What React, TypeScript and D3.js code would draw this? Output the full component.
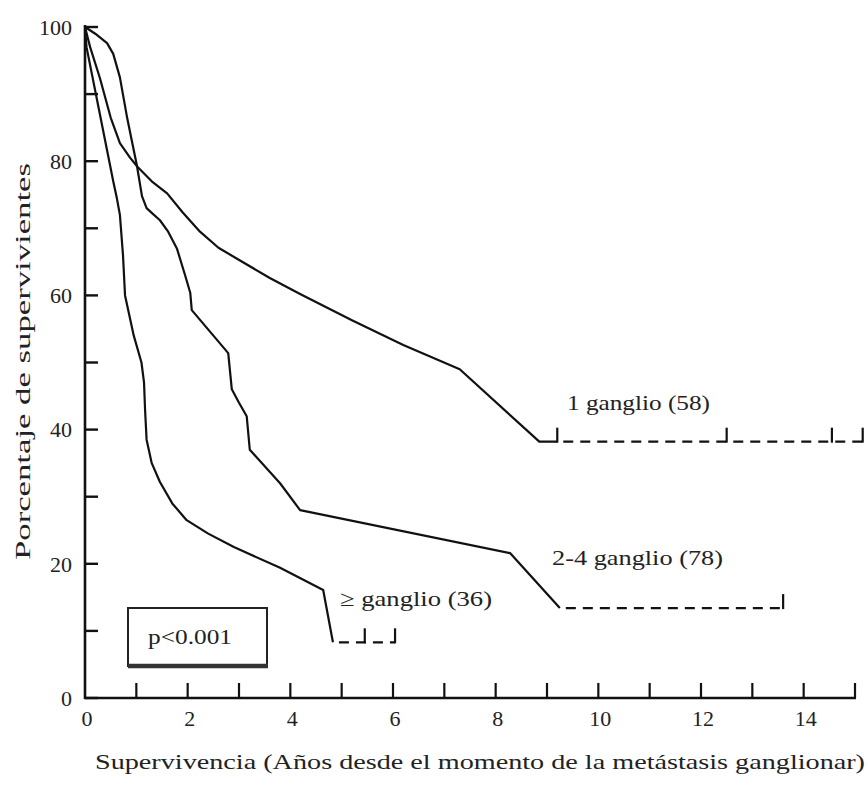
import React from "react";
import * as d3 from "d3";

// Kaplan-Meier curves: [years, % survivors]
const grupo1: [number, number][] = [
  [0, 100], [0.1, 97], [0.29, 92.4], [0.5, 86.5], [0.68, 82.7], [0.88, 80.5],
  [1.03, 79.1], [1.3, 77], [1.6, 75.2], [1.9, 72.4], [2.24, 69.5], [2.6, 67.1],
  [3.02, 65.2], [3.6, 62.6], [4.19, 60.2], [5.2, 56.3], [6.2, 52.6], [7.3, 49],
  [8.85, 38.2], [9.2, 38.2],
];
const grupo2: [number, number][] = [
  [0, 100], [0.2, 99], [0.43, 97.6], [0.55, 96], [0.68, 92.5], [0.82, 86.5],
  [0.94, 82], [1.01, 79.4], [1.11, 74.8], [1.2, 73], [1.3, 72.3], [1.46, 71.2],
  [1.62, 69.5], [1.79, 67], [1.95, 63], [2.05, 60.4], [2.08, 57.8], [2.79, 51.4],
  [2.86, 46], [3.0, 44], [3.15, 42], [3.21, 37], [3.8, 32], [4.19, 28],
  [8.28, 21.6], [9.25, 13.4],
];
const grupo3: [number, number][] = [
  [0, 100], [0.03, 97], [0.29, 87], [0.55, 77], [0.62, 74.5], [0.68, 72],
  [0.74, 66], [0.78, 60], [0.95, 54], [1.1, 50], [1.15, 47], [1.17, 43],
  [1.2, 38.5], [1.3, 35], [1.46, 32.2], [1.7, 29], [1.98, 26.5], [2.4, 24.5],
  [2.9, 22.5], [3.8, 19.4], [4.64, 16.1], [4.83, 8.3],
];

// dashed tail (last follow-up) and censor marks per group
const finGrupos = [15.15, 13.6, 6.04];
const censuras = [[9.2, 12.5, 14.55, 15.15], [13.6], [5.45, 6.04]];
const etiquetas = ["1 ganglio (58)", "2-4 ganglio (78)", "\u2265 ganglio (36)"];

const xTicks = d3.range(0, 16, 1);
const xLabels = [0, 2, 4, 6, 8, 10, 12, 14];
const yTicks = d3.range(0, 101, 10);
const yLabels = [0, 20, 40, 60, 80, 100];

export default function App() {
  const width = 867;
  const height = 792;
  const x = d3.scaleLinear().domain([0, 15]).range([85, 855]);
  const y = d3.scaleLinear().domain([0, 100]).range([698, 27]);
  const line = d3
    .line<[number, number]>()
    .x((d) => x(d[0]))
    .y((d) => y(d[1]));

  const grupos = [grupo1, grupo2, grupo3];
  const font = "'Liberation Serif', 'Times New Roman', serif";

  // label placements
  const labelPos = [
    { x: 567, y: 402, w: 143 },
    { x: 552, y: 557, w: 171 },
    { x: 340, y: 598, w: 152 },
  ];

  return (
    <svg
      width={width}
      height={height}
      style={{ position: "absolute", left: 0, top: 0, background: "#fff" }}
      fontFamily={font}
    >
      <rect width={width} height={height} fill="#fff" />

      {/* axes */}
      <line x1={x(0)} x2={x(0)} y1={y(100) - 2} y2={y(0) + 1} stroke="#111" strokeWidth={2.6} />
      <line x1={x(0) - 1} x2={x(15) + 1} y1={y(0)} y2={y(0)} stroke="#111" strokeWidth={2.6} />
      {yTicks.map((t) => (
        <line key={"yt" + t} x1={x(0)} x2={x(0) + 13} y1={y(t)} y2={y(t)} stroke="#111" strokeWidth={2.4} />
      ))}
      {xTicks.slice(1).map((t) => (
        <line key={"xt" + t} x1={x(t)} x2={x(t)} y1={y(0)} y2={y(0) - 15} stroke="#111" strokeWidth={2.2} />
      ))}
      {yLabels.map((t) => (
        <text key={"yl" + t} x={72} y={y(t)} dy="0.35em" textAnchor="end" fontSize={22} fill="#222">
          {t}
        </text>
      ))}
      {xLabels.map((t) => (
        <text key={"xl" + t} x={x(t) + 2} y={y(0) + 20} dy="0.35em" textAnchor="middle" fontSize={22} fill="#222">
          {t}
        </text>
      ))}

      {/* axis titles */}
      <text
        x={95}
        y={769}
        fontSize={22}
        fill="#222"
        textLength={770}
        lengthAdjust="spacingAndGlyphs"
      >
        Supervivencia (Años desde el momento de la metástasis ganglionar)
      </text>
      <text
        transform="translate(30,560) rotate(-90)"
        x={0}
        y={0}
        fontSize={22}
        fill="#222"
        textLength={397}
        lengthAdjust="spacingAndGlyphs"
      >
        Porcentaje de supervivientes
      </text>

      {/* survival curves */}
      {grupos.map((g, i) => {
        const last = g[g.length - 1];
        return (
          <g key={"g" + i}>
            <path d={line(g) ?? ""} fill="none" stroke="#111" strokeWidth={2.2} strokeLinejoin="round" />
            <line
              x1={x(last[0]) + 6}
              x2={x(finGrupos[i])}
              y1={y(last[1])}
              y2={y(last[1])}
              stroke="#111"
              strokeWidth={2.2}
              strokeDasharray="10,7"
            />
            {censuras[i].map((c) => (
              <line
                key={"c" + c}
                x1={x(c)}
                x2={x(c)}
                y1={y(last[1]) + 1}
                y2={y(last[1]) - 14}
                stroke="#111"
                strokeWidth={2.2}
              />
            ))}
            <text
              x={labelPos[i].x}
              y={labelPos[i].y}
              dy="0.35em"
              fontSize={22}
              fill="#222"
              textLength={labelPos[i].w}
              lengthAdjust="spacingAndGlyphs"
            >
              {etiquetas[i]}
            </text>
          </g>
        );
      })}

      {/* p-value box */}
      <rect x={128} y={608} width={139} height={58} fill="none" stroke="#222" strokeWidth={2} />
      <line x1={128} x2={268} y1={666} y2={666} stroke="#333" strokeWidth={4.5} />
      <text x={190} y={636} dy="0.35em" textAnchor="middle" fontSize={22} fill="#222" textLength={84} lengthAdjust="spacingAndGlyphs">
        p&lt;0.001
      </text>
    </svg>
  );
}
